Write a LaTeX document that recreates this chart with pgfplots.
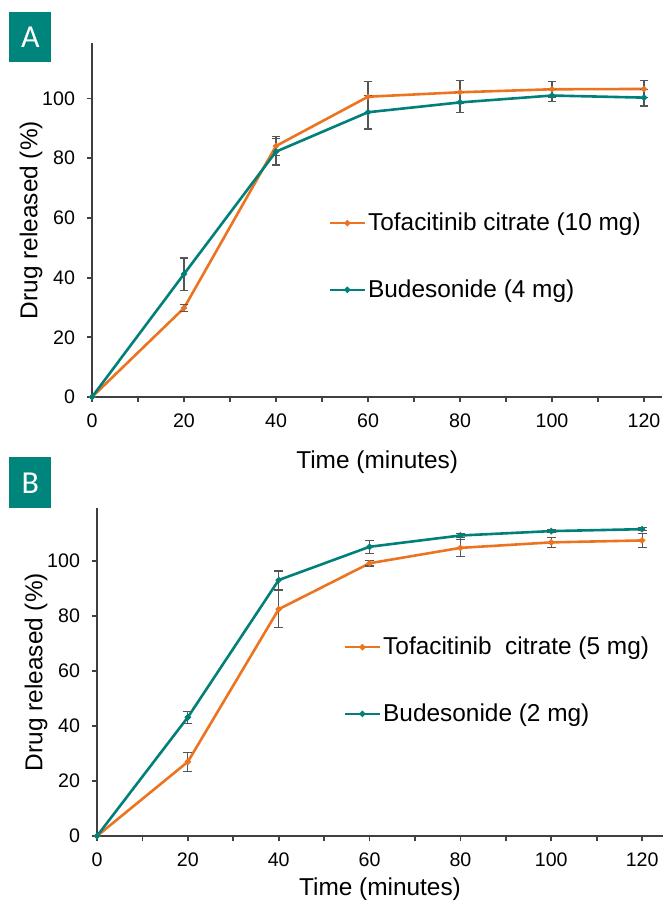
\documentclass[border=0pt]{standalone}
\usepackage{fontspec}
\setmainfont{Liberation Sans}
\newfontfamily\boxfont{Carlito}
\usepackage{pgfplots}
\pgfplotsset{compat=1.18}

\definecolor{tofa}{RGB}{236,116,33}
\definecolor{bude}{RGB}{0,128,121}
\definecolor{boxteal}{RGB}{0,133,124}
\definecolor{axgray}{RGB}{64,64,64}
\definecolor{errgray}{RGB}{85,85,85}

\pgfplotstableread{
x   y      ey
0   0      0
20  29.8   1.2
40  84.1   3.3
60  100.6  5.2
80  102.1  3.9
100 103.1  2.7
120 103.2  2.8
}\tofaA
\pgfplotstableread{
x   y      ey
0   0      0
20  41.2   5.4
40  82.2   4.5
60  95.4   5.6
80  98.7   3.4
100 101.0  2.0
120 100.3  2.8
}\budeA
\pgfplotstableread{
x   y      ey
0   0      0
20  27.0   3.5
40  82.5   6.8
60  99.2   1.0
80  104.8  3.0
100 106.8  1.9
120 107.5  2.5
}\tofaB
\pgfplotstableread{
x   y      ey
0   0      0
20  43.2   2.2
40  93.1   3.3
60  105.2  2.4
80  109.3  0.7
100 110.9  0.6
120 111.6  0.5
}\budeB

\pgfplotsset{
  panel/.style={
    scale only axis,
    axis x line=bottom,
    axis y line=left,
    axis line style={axgray, line width=1pt, -},
    xmin=0, ymin=0,
    xtick={0,20,...,120},
    minor xtick={10,30,...,110},
    ytick={0,20,...,100},
    tick align=outside,
    major tick length=2.5pt,
    minor tick length=2.5pt,
    tick style={axgray, line width=0.9pt},
    every tick label/.append style={font=\fontsize{9.8}{11}\selectfont},
    xticklabel style={yshift=-2.5pt},
    yticklabel style={xshift=-2.5pt},
    /pgf/number format/assume math mode=true,
    label style={font=\fontsize{12.2}{14}\selectfont},
    ylabel style={yshift=-7pt},
    xlabel={Time (minutes)},
    ylabel={Drug released (\%)},
    legend cell align=left,
    legend image code/.code={
      \draw[mark repeat=2, mark phase=2, ##1] plot coordinates {(0pt,0pt) (8.75pt,0pt) (17.5pt,0pt)};
    },
    legend style={draw=none, fill=none, inner sep=0pt, row sep=21pt,
      font=\fontsize{12.2}{14}\selectfont, nodes={inner sep=1pt}},
  },
  series/.style={
    line width=1.3pt, color=#1, mark=*, mark size=0.8pt,
    mark options={solid, fill=#1},
    error bars/.cd, y dir=both, y explicit,
    error bar style={errgray, line width=0.6pt},
    error mark options={rotate=90, mark size=2.2pt, errgray, line width=0.6pt},
  },
}

\begin{document}
\begin{tikzpicture}
\path[use as bounding box] (0,0) rectangle (331.5pt,-452pt);

\begin{axis}[panel,
  at={(46pt,-198.5pt)}, anchor=south west,
  width=285.2pt, height=177pt,
  xmax=124, ymax=118.6,
  xlabel style={yshift=-4.5pt},
  legend style={at={(0.414,0.397)}, anchor=west},
]
\addplot[series=tofa] table[x=x, y=y, y error=ey] {\tofaA};
\addlegendentry{Tofacitinib citrate (10 mg)}
\addplot[series=bude] table[x=x, y=y, y error=ey] {\budeA};
\addlegendentry{Budesonide (4 mg)}
\end{axis}

\begin{axis}[panel,
  at={(48.5pt,-418pt)}, anchor=south west,
  width=283pt, height=164pt,
  xmax=124.6, ymax=119.3,
  xlabel style={yshift=1.5pt},
  legend style={at={(0.435,0.474)}, anchor=west},
]
\addplot[series=tofa] table[x=x, y=y, y error=ey] {\tofaB};
\addlegendentry{Tofacitinib\ \ citrate (5 mg)}
\addplot[series=bude] table[x=x, y=y, y error=ey] {\budeB};
\addlegendentry{Budesonide (2 mg)}
\end{axis}

\node[fill=boxteal, text=white, minimum width=21pt, minimum height=25pt,
  inner sep=0pt, anchor=north west, font=\boxfont\fontsize{16}{16}\selectfont]
  at (4.5pt,-6pt) {A};
\node[fill=boxteal, text=white, minimum width=21pt, minimum height=25.5pt,
  inner sep=0pt, anchor=north west, font=\boxfont\fontsize{16}{16}\selectfont]
  at (4.5pt,-228.5pt) {B};
\end{tikzpicture}
\end{document}
